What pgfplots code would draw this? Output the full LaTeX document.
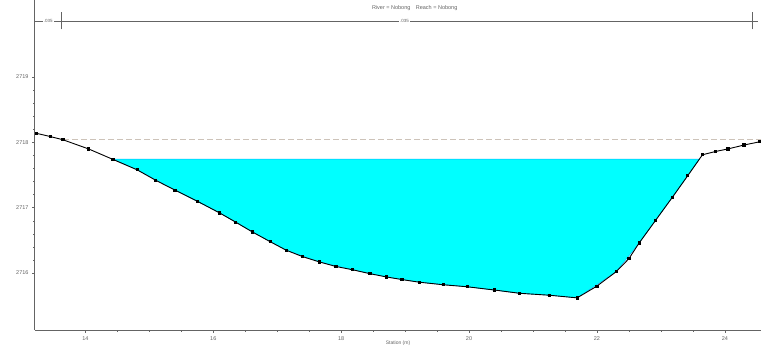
\documentclass[border=0pt]{standalone}
\usepackage{fontspec}
\setmainfont{Liberation Sans}
\usepackage{pgfplots}
\pgfplotsset{compat=1.18}
\definecolor{watercyan}{RGB}{0,255,255}
\definecolor{axgray}{RGB}{100,100,100}
\definecolor{egline}{RGB}{205,195,185}
\begin{document}
\begin{tikzpicture}
\begin{axis}[
  scale only axis, width=726pt, height=330pt,
  xmin=13.212, xmax=24.566, ymin=2715.128, ymax=2720.18,
  axis x line*=bottom, axis y line*=left,
  axis line style={-, draw=axgray, line width=1pt},
  xtick={14,16,18,20,22,24}, ytick={2716,2717,2718,2719},
  minor x tick num=3, minor y tick num=4,
  tick style={axgray, line width=0.5pt}, tick align=outside,
  major tick length=3pt, minor tick length=2pt,
  ticklabel style={font=\fontsize{5.5}{6}\selectfont, text=axgray},
  /pgf/number format/assume math mode=true,
  /pgf/number format/1000 sep={},
  xlabel={Station (m)},
  xlabel style={font=\fontsize{5}{6}\selectfont, text=axgray, yshift=6pt},
  clip=false,
]
% water
\addplot[fill=watercyan, draw=watercyan!70!blue, line width=0.4pt] coordinates {
 (14.43,2717.745) (14.81,2717.58) (15.40,2717.27) (16.10,2716.92) (16.61,2716.63)
 (17.14,2716.35) (17.66,2716.17) (18.18,2716.05) (18.71,2715.94) (19.22,2715.86)
 (19.97,2715.79) (20.79,2715.69) (21.26,2715.66) (21.69,2715.62) (22.30,2716.02)
 (22.66,2716.46) (23.18,2717.16) (23.603,2717.745)} -- cycle;
% dashed line
\addplot[egline, line width=0.9pt, dash pattern=on 6pt off 3pt] coordinates {
 (13.65,2718.04) (24.566,2718.04)};
% ground
\addplot[black, line width=0.9pt, mark=square*, mark size=1.1pt] coordinates {
 (13.23,2718.14) (13.45,2718.09) (13.65,2718.04) (14.05,2717.90) (14.43,2717.74)
 (14.81,2717.58) (15.10,2717.42) (15.40,2717.27) (15.75,2717.10) (16.10,2716.92)
 (16.35,2716.78) (16.61,2716.63) (16.89,2716.48) (17.14,2716.35) (17.40,2716.25)
 (17.66,2716.17) (17.92,2716.10) (18.18,2716.05) (18.45,2715.99) (18.71,2715.94)
 (18.95,2715.90) (19.22,2715.86) (19.60,2715.82) (19.97,2715.79) (20.40,2715.74)
 (20.79,2715.69) (21.26,2715.66) (21.69,2715.62) (22.00,2715.80) (22.30,2716.02)
 (22.50,2716.22) (22.66,2716.46) (22.92,2716.81) (23.18,2717.16) (23.42,2717.49)
 (23.65,2717.81) (23.85,2717.86) (24.05,2717.90) (24.30,2717.96) (24.55,2718.01)};
% Manning's n dimension line
\addplot[axgray, line width=0.5pt] coordinates {(13.212,2719.86) (24.52,2719.86)};
\addplot[axgray, line width=0.6pt] coordinates {(13.63,2719.73) (13.63,2719.99)};
\addplot[axgray, line width=0.6pt] coordinates {(24.43,2719.73) (24.43,2719.99)};
\node[fill=white, inner sep=1pt, font=\fontsize{4.5}{5}\selectfont, text=axgray]
  at (axis cs:13.42,2719.86) {.035};
\node[fill=white, inner sep=1pt, font=\fontsize{4.5}{5}\selectfont, text=axgray]
  at (axis cs:18.99,2719.86) {.035};
\node[font=\fontsize{5.5}{6}\selectfont, text=axgray]
  at (axis cs:19.15,2720.06) {River = Nobong\quad Reach = Nobong};
\end{axis}
\pgfresetboundingbox
\path (current axis.south west) ++(-35pt,-24pt) coordinate (bbA);
\path (current axis.north east) ++(0pt,0pt) coordinate (bbB);
\path[use as bounding box] (bbA) rectangle (bbB);
\end{tikzpicture}
\end{document}
